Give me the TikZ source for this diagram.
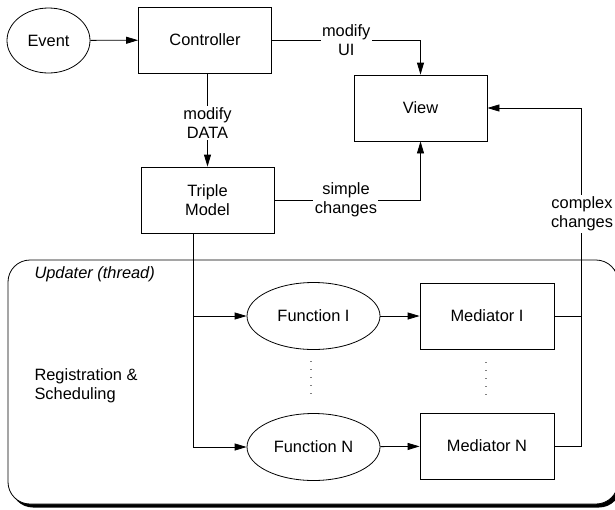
\documentclass[tikz,border=0pt]{standalone}
\usepackage{fontspec}
\setmainfont{Liberation Sans}
\usetikzlibrary{arrows.meta,shapes.geometric}
\begin{document}
\begin{tikzpicture}[x=1pt,y=-1pt,
  every node/.style={font=\fontsize{16.4}{19}\selectfont},
  ln/.style={line width=0.8pt},
  arr/.style={ln,-{Triangle[length=12pt,width=7pt]}},
  boxnode/.style={draw,ln,rectangle,minimum width=133pt,minimum height=66pt,inner sep=0pt,align=center,fill=white},
  ellnode/.style={draw,ln,ellipse,inner sep=0pt,align=center,fill=white},
  lbl/.style={fill=white,inner sep=1.5pt,align=center}]
\useasboundingbox (0,0) rectangle (615,509);
% updater frame with shadow
\fill[rounded corners=22pt] (11,263) rectangle (621,507.5);
\draw[ln,fill=white,rounded corners=22pt] (8,260) rectangle (618,504);
\node[anchor=west,font=\fontsize{16.4}{19}\selectfont\itshape] (upd) at (31,274) {Updater (thread)};
\node[anchor=west,align=left] (reg) at (31,386) {Registration \&\\Scheduling};
% nodes
\node[ellnode,minimum width=83pt,minimum height=65pt] (ev) at (48.5,40.5) {Event};
\node[boxnode] (ctrl) at (205,40) {Controller};
\node[boxnode] (view) at (420.5,108) {View};
\node[boxnode] (tm) at (207.5,200) {Triple\\Model};
\node[ellnode,minimum width=133pt,minimum height=67pt] (f1) at (313.5,316) {Function I};
\node[ellnode,minimum width=133pt,minimum height=67pt] (fn) at (313.5,447) {Function N};
\node[boxnode,minimum width=134pt] (m1) at (487,316) {Mediator I};
\node[boxnode,minimum width=134pt] (mn) at (487,446) {Mediator N};
\coordinate (tl) at (193,0);
\coordinate (rj) at (581,0);
\coordinate (d1a) at (311,361);
\coordinate (d1b) at (311,394);
\coordinate (d2a) at (486,362);
\coordinate (d2b) at (486,395);
% connectors
\draw[arr] (ev) -- (ctrl);
\draw[arr] (tm.north |- ctrl.south) -- node[lbl,pos=0.53]{modify\\DATA} (tm.north);
\draw[arr] (ctrl.east) -- node[lbl,pos=0.5]{modify\\UI} (ctrl.east -| view.north) -- (view.north);
\draw[arr] (tm.east) -- node[lbl,pos=0.49]{simple\\changes} (tm.east -| view.south) -- (view.south);
\draw[arr] (tm.south -| tl) |- (f1.west);
\draw[arr] (tm.south -| tl) |- (fn.west);
\draw[arr] (f1) -- (m1);
\draw[arr] (fn) -- (mn);
\draw[ln] (m1.east) -- (m1.east -| rj);
\draw[arr] (mn.east) -- (mn.east -| rj) -- node[lbl,pos=0.686,xshift=1pt]{complex\\changes} (view.east -| rj) -- (view.east);
\draw[line width=1.1pt,dash pattern=on 1.1pt off 7pt,gray] (d1a) -- (d1b);
\draw[line width=1.1pt,dash pattern=on 1.1pt off 7pt,gray] (d2a) -- (d2b);
\end{tikzpicture}
\end{document}
